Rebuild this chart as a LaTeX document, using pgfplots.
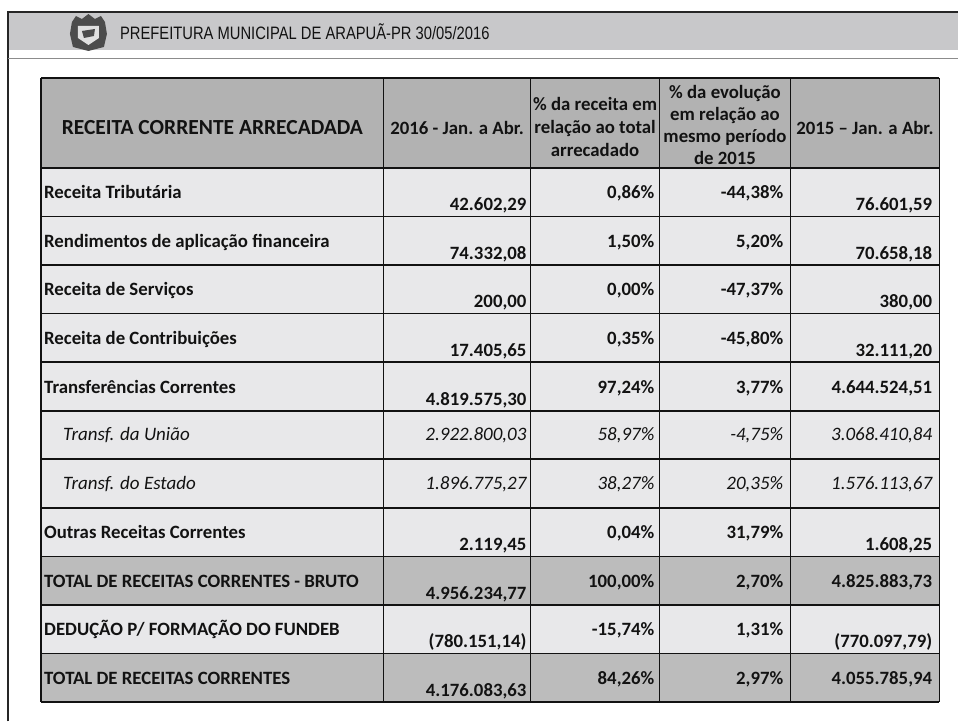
\documentclass[border=0pt]{standalone}
\usepackage{pgfplots}
\pgfplotsset{compat=1.18}
\usepackage{pgfplotstable}
\usepackage{fontspec}
\setmainfont{Carlito}
\newfontfamily\arialf{Liberation Sans}
\definecolor{hdr}{RGB}{178,178,178}
\definecolor{rowc}{RGB}{232,232,234}
\definecolor{tot}{RGB}{188,188,188}
\definecolor{band}{RGB}{200,200,202}
\definecolor{ink}{RGB}{18,18,18}

% bold labels (left aligned)
\pgfplotstableread[col sep=semicolon,row sep=\\]{
x;y;t\\
44;199.0;Receita Tributária\\
44;247.6;Rendimentos de aplicação financeira\\
44;296.2;Receita de Serviços\\
44;344.8;Receita de Contribuições\\
44;393.4;Transferências Correntes\\
44;539.2;Outras Receitas Correntes\\
44;587.8;TOTAL DE RECEITAS CORRENTES - BRUTO\\
44;636.4;DEDUÇÃO P/ FORMAÇÃO DO FUNDEB\\
44;685.0;TOTAL DE RECEITAS CORRENTES\\
}\boldlabels

% bold values (right aligned)
\pgfplotstableread[col sep=semicolon,row sep=\\]{
x;y;t\\
527;211.0;42.602,29\\
527;259.6;74.332,08\\
527;308.2;200,00\\
527;356.8;17.405,65\\
527;405.4;4.819.575,30\\
527;551.2;2.119,45\\
527;599.8;4.956.234,77\\
527;648.4;(780.151,14)\\
527;697.0;4.176.083,63\\
655;199.0;0,86\%\\
655;247.6;1,50\%\\
655;296.2;0,00\%\\
655;344.8;0,35\%\\
655;393.4;97,24\%\\
655;539.2;0,04\%\\
655;587.8;100,00\%\\
655;636.4;-15,74\%\\
655;685.0;84,26\%\\
784;199.0;-44,38\%\\
784;247.6;5,20\%\\
784;296.2;-47,37\%\\
784;344.8;-45,80\%\\
784;393.4;3,77\%\\
784;539.2;31,79\%\\
784;587.8;2,70\%\\
784;636.4;1,31\%\\
784;685.0;2,97\%\\
933;211.0;76.601,59\\
933;259.6;70.658,18\\
933;308.2;380,00\\
933;356.8;32.111,20\\
933;393.4;4.644.524,51\\
933;551.2;1.608,25\\
933;587.8;4.825.883,73\\
933;648.4;(770.097,79)\\
933;685.0;4.055.785,94\\
}\boldvalues

% italic labels
\pgfplotstableread[col sep=semicolon,row sep=\\]{
x;y;t\\
63;441.0;Transf. da União\\
63;489.6;Transf. do Estado\\
}\itlabels

% italic values
\pgfplotstableread[col sep=semicolon,row sep=\\]{
x;y;t\\
527;441.0;2.922.800,03\\
655;441.0;58,97\%\\
784;441.0;-4,75\%\\
933;441.0;3.068.410,84\\
527;489.6;1.896.775,27\\
655;489.6;38,27\%\\
784;489.6;20,35\%\\
933;489.6;1.576.113,67\\
}\itvalues

\begin{document}
\begin{tikzpicture}
\begin{axis}[
  x=1pt, y=1pt, y dir=reverse,
  xmin=0, xmax=959, ymin=0, ymax=722,
  hide axis, clip=false,
  every node near coord/.append style={inner sep=0pt, text=ink},
]
% page background
\fill[white] (axis cs:0,0) rectangle (axis cs:959,722);
% top banner
\fill[band] (axis cs:8,12) rectangle (axis cs:959,50);
\draw[black!85, line width=1.4pt] (axis cs:8,722) -- (axis cs:8,12) -- (axis cs:959,12);
\draw[black!45, line width=1pt] (axis cs:8,59) -- (axis cs:959,59);
% logo (stylised coat of arms)
\fill[black!70] (axis cs:72,22) -- (axis cs:76,16) -- (axis cs:82,19) -- (axis cs:88.5,14) -- (axis cs:95,19) -- (axis cs:101,16) -- (axis cs:105,22)
  -- (axis cs:107,34) -- (axis cs:104,47) -- (axis cs:88.5,51) -- (axis cs:73,47) -- (axis cs:70,34) -- cycle;
\fill[black!12] (axis cs:78,26) -- (axis cs:99,26) -- (axis cs:99,38) -- (axis cs:88.5,45) -- (axis cs:78,38) -- cycle;
\fill[black!70] (axis cs:82,31) -- (axis cs:95,29) -- (axis cs:94,36) -- (axis cs:84,38) -- cycle;
\node[anchor=base west, inner sep=0pt, text=ink] at (axis cs:120,39.5)
  {\scalebox{0.82}[1]{\arialf\fontsize{18}{21}\selectfont PREFEITURA MUNICIPAL DE ARAPUÃ-PR 30/05/2016}};

% table fills
\fill[hdr] (axis cs:41,78) rectangle (axis cs:940,168);
\fill[rowc] (axis cs:41,168) rectangle (axis cs:940,556.8);
\fill[tot] (axis cs:41,556.8) rectangle (axis cs:940,605.4);
\fill[rowc] (axis cs:41,605.4) rectangle (axis cs:940,654.0);
\fill[tot] (axis cs:41,654.0) rectangle (axis cs:940,702.6);

% grid
\pgfplotsinvokeforeach{78,168,216.6,265.2,313.8,362.4,411.0,459.6,508.2,556.8,605.4,654.0,702.6}{
  \draw[ink, line width=1.7pt] (axis cs:41,#1) -- (axis cs:940,#1);
}
\pgfplotsinvokeforeach{41,384,531,660,791,940}{
  \draw[ink, line width=1.4pt] (axis cs:#1,78) -- (axis cs:#1,702.6);
}

% header texts
\node[anchor=base, inner sep=0pt, text=ink, font=\fontsize{21.5}{25}\selectfont\bfseries]
  at (axis cs:212.5,135) {RECEITA CORRENTE ARRECADADA};
\node[anchor=base, inner sep=0pt, text=ink, font=\fontsize{18.8}{22}\selectfont\bfseries]
  at (axis cs:457.5,135) {2016 - Jan. a Abr.};
\node[anchor=center, inner sep=0pt, align=center, text=ink, font=\fontsize{18.8}{23}\selectfont\bfseries]
  at (axis cs:595.5,127) {\% da receita em\\relação ao total\\arrecadado};
\node[anchor=center, inner sep=0pt, align=center, text=ink, font=\fontsize{18.8}{22}\selectfont\bfseries]
  at (axis cs:725.5,125) {\% da evolução\\em relação ao\\mesmo período\\de 2015};
\node[anchor=base, inner sep=0pt, text=ink, font=\fontsize{18.8}{22}\selectfont\bfseries]
  at (axis cs:865.5,135) {2015 – Jan. a Abr.};

% cell contents
\addplot[draw=none, mark=none, nodes near coords, point meta=explicit symbolic,
  every node near coord/.append style={anchor=base west, font=\fontsize{18.8}{22}\selectfont\bfseries}]
  table[x=x, y=y, meta=t] {\boldlabels};
\addplot[draw=none, mark=none, nodes near coords, point meta=explicit symbolic,
  every node near coord/.append style={anchor=base east, font=\fontsize{18.8}{22}\selectfont\bfseries}]
  table[x=x, y=y, meta=t] {\boldvalues};
\addplot[draw=none, mark=none, nodes near coords, point meta=explicit symbolic,
  every node near coord/.append style={anchor=base west, font=\fontsize{19}{22}\selectfont\itshape}]
  table[x=x, y=y, meta=t] {\itlabels};
\addplot[draw=none, mark=none, nodes near coords, point meta=explicit symbolic,
  every node near coord/.append style={anchor=base east, font=\fontsize{19}{22}\selectfont\itshape}]
  table[x=x, y=y, meta=t] {\itvalues};
\end{axis}
\end{tikzpicture}
\end{document}
